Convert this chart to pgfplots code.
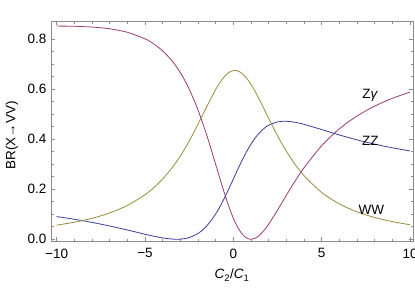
\documentclass[border=0pt]{standalone}
\usepackage{fontspec}
\setmainfont{Liberation Sans}
\usepackage{pgfplots}
\usepackage{pgfplotstable}
\pgfplotsset{compat=1.18}
\definecolor{czz}{rgb}{0.24,0.24,0.6}
\definecolor{cza}{rgb}{0.6,0.24,0.442}
\definecolor{cww}{rgb}{0.6,0.547,0.24}
\definecolor{frame}{gray}{0.55}
\pgfplotstableread{
r     ww      zz       za
-10   0.0564  0.0909   0.8527
-9    0.0682  0.0800   0.8519
-8    0.0838  0.0674   0.8488
-7    0.1052  0.0530   0.8418
-6    0.1352  0.0370   0.8279
-5    0.1782  0.0201   0.8017
-4.5  0.2066  0.0122   0.7812
-4    0.2411  0.0054   0.7535
-3.5  0.2829  0.0009   0.7162
-3.25 0.3069  0.0000   0.6930
-3    0.3332  0.0005   0.6664
-2.75 0.3617  0.0026   0.6358
-2.5  0.3924  0.0067   0.6009
-2    0.4597  0.0231   0.5172
-1.5  0.5313  0.0536   0.4151
-1    0.5992  0.1012   0.2996
-0.75 0.6281  0.1315   0.2404
-0.5  0.6513  0.1656   0.1832
-0.25 0.6672  0.2025   0.1303
0     0.6747  0.2410   0.0843
0.25  0.6732  0.2795   0.0473
0.5   0.6628  0.3165   0.0207
0.75  0.6443  0.3506   0.0050
1     0.6191  0.3809   0.0000
1.25  0.5888  0.4066   0.0046
1.5   0.5550  0.4276   0.0173
1.75  0.5195  0.4440   0.0365
2     0.4835  0.4560   0.0604
2.5   0.4142  0.4693   0.1165
3     0.3520  0.4720   0.1760
3.5   0.2988  0.4678   0.2334
4     0.2543  0.4597   0.2860
5     0.1871  0.4387   0.3742
6     0.1413  0.4171   0.4416
7     0.1095  0.3975   0.4930
8     0.0870  0.3804   0.5326
9     0.0705  0.3658   0.5637
10    0.0581  0.3533   0.5886
}\brdata
\begin{document}
\fontsize{13.5}{16}\selectfont
\begin{tikzpicture}
\useasboundingbox (0pt,0pt) rectangle (415pt,290pt);
\begin{axis}[
  at={(51pt,49pt)}, anchor=south west,
  scale only axis, width=362.4pt, height=220pt,
  xmin=-10.32, xmax=10.19, ymin=-0.007, ymax=0.873,
  xtick={-10,-5,0,5,10}, xticklabels={−10,−5,0,5,10},
  ytick={0,0.2,0.4,0.6,0.8}, yticklabels={0.0,0.2,0.4,0.6,0.8},
  minor x tick num=4, minor y tick num=3,
  tick align=inside,
  major tick length=4pt, minor tick length=2.5pt,
  every tick/.style={frame, line width=0.6pt},
  axis line style={frame, line width=0.7pt},
  tick label style={font=\fontsize{13.5}{16}\selectfont, black},
  xticklabel style={yshift=-3pt},
  label style={font=\fontsize{13.5}{16}\selectfont},
  xlabel={\textit{C}\textsubscript{2}/\textit{C}\textsubscript{1}},
  ylabel={BR(X→VV)},
  xlabel style={at={(axis description cs:0.4995,-0.155)}, anchor=center},
  ylabel style={at={(axis description cs:-0.108,0.48)}, anchor=center},
  clip=true,
]
\addplot[cza, line width=0.8pt, smooth] table[x=r, y=za] {\brdata};
\addplot[czz, line width=0.8pt, smooth] table[x=r, y=zz] {\brdata};
\addplot[cww, line width=0.8pt, smooth] table[x=r, y=ww] {\brdata};
\node[font=\fontsize{13.5}{16}\selectfont] at (axis cs:7.74,0.577) {Z\textit{γ}};
\node[font=\fontsize{13.5}{16}\selectfont] at (axis cs:7.75,0.394) {ZZ};
\node[font=\fontsize{13.5}{16}\selectfont] at (axis cs:7.81,0.117) {WW};
\end{axis}
\end{tikzpicture}
\end{document}
